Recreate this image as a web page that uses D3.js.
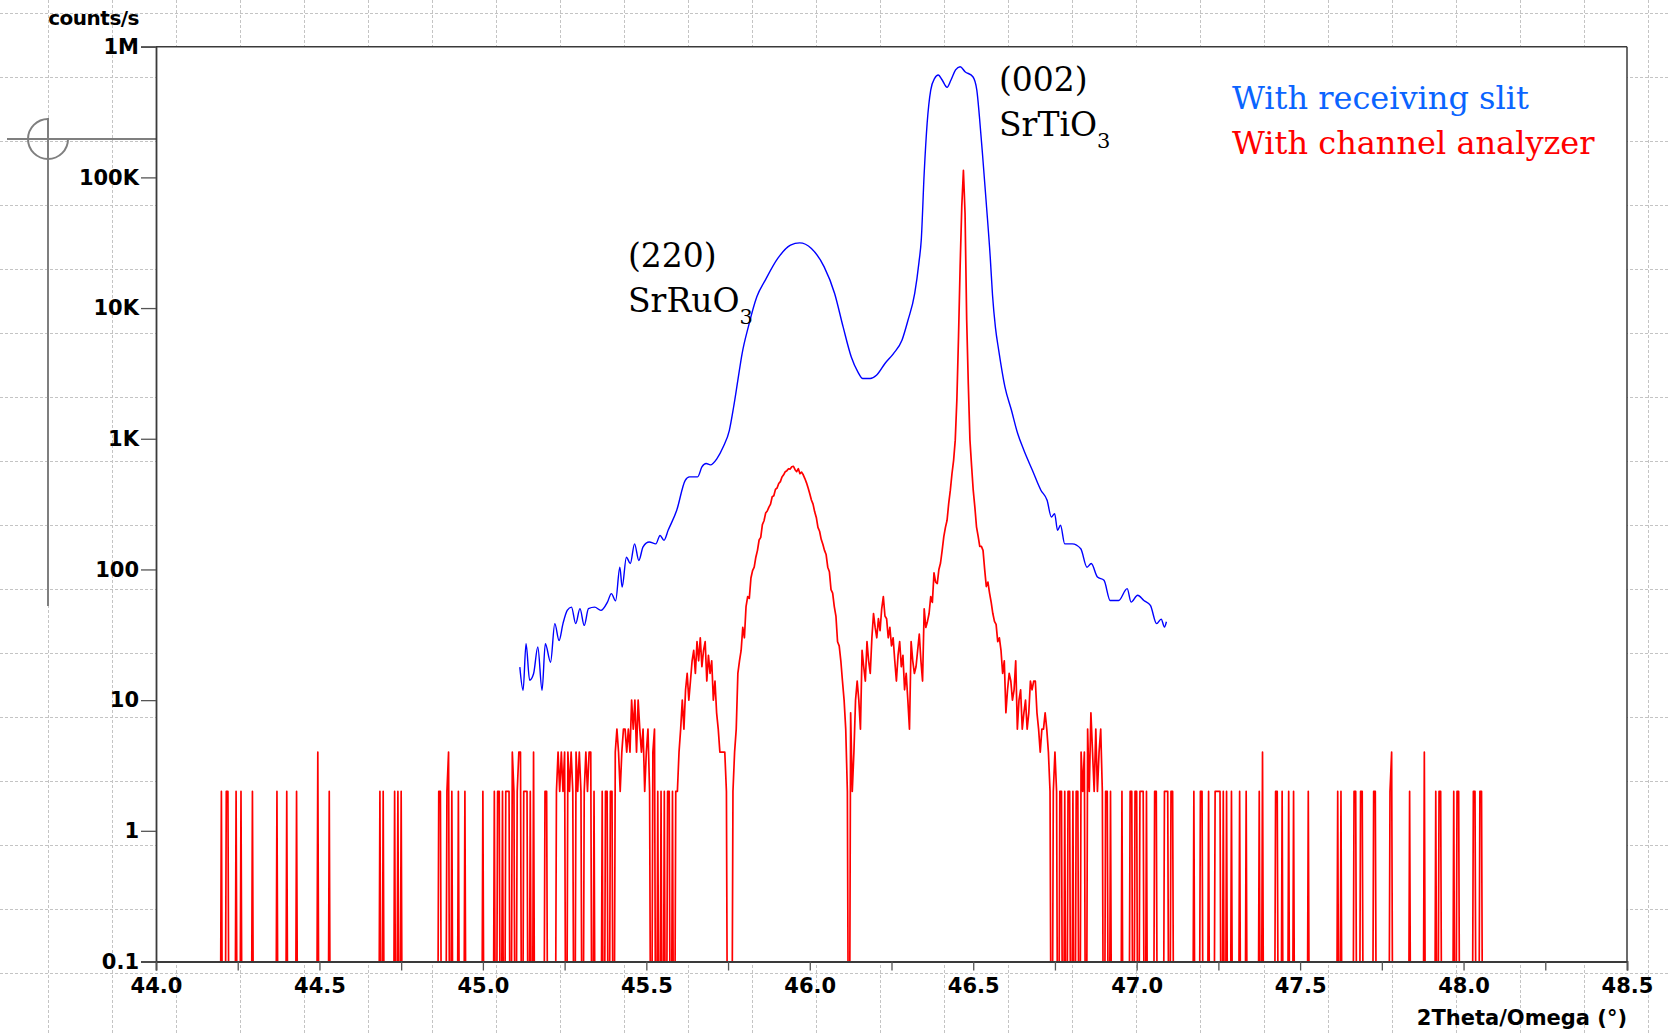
<!DOCTYPE html>
<html><head><meta charset="utf-8">
<script src="https://cdn.jsdelivr.net/npm/d3@7"></script>
<style>body{margin:0;background:#fff;} svg{display:block;}</style>
</head><body>
<svg id="chart" width="1670" height="1035"></svg>
<script>
// ---------------- data ----------------
const xTicksMajor = [44.0, 44.5, 45.0, 45.5, 46.0, 46.5, 47.0, 47.5, 48.0, 48.5];
const xTicksMinor = [44.25, 44.75, 45.25, 45.75, 46.25, 46.75, 47.25, 47.75, 48.25];
const yTicks = [0.1, 1, 10, 100, 1000, 10000, 100000, 1000000];
const yTickLabels = ["0.1", "1", "10", "100", "1K", "10K", "100K", "1M"];
const yAxisTitle = "counts/s";
const xAxisTitle = "2Theta/Omega (°)";
const seriesNames = ["With receiving slit", "With channel analyzer"];

// Blue: with receiving slit (2theta in degrees, counts/s)
const blueX = [45.113,45.123,45.132,45.143,45.155,45.168,45.181,45.191,45.207,45.220,45.233,45.245,45.258,45.271,45.284,45.297,45.310,45.323,45.342,45.361,45.381,45.393,45.406,45.419,45.426,45.439,45.451,45.464,45.477,45.490,45.509,45.529,45.542,45.554,45.567,45.593,45.619,45.632,45.657,45.670,45.683,45.696,45.716,45.735,45.754,45.767,45.780,45.793,45.812,45.838,45.864,45.902,45.941,45.969,46.005,46.044,46.076,46.102,46.127,46.147,46.162,46.185,46.204,46.230,46.256,46.282,46.300,46.321,46.334,46.341,46.350,46.359,46.370,46.382,46.393,46.405,46.420,46.432,46.446,46.460,46.475,46.499,46.511,46.519,46.529,46.540,46.552,46.559,46.568,46.578,46.597,46.617,46.636,46.655,46.681,46.707,46.726,46.739,46.749,46.758,46.767,46.780,46.803,46.829,46.848,46.861,46.880,46.900,46.919,46.945,46.971,46.983,47.003,47.022,47.042,47.061,47.075,47.085,47.091];
const blueY = [17.9,11.9,27.0,14.2,15.9,25.5,11.9,27.0,19.5,38.5,28.6,38.5,48.6,51.5,38.5,50.1,37.3,50.1,51.5,48.6,56.2,65.3,57.5,104,73.3,124,111,157,117,149,162,157,182,167,200,284,481,511,511,608,646,631,705,865,1161,1750,2805,4487,7178,12190,16370,23990,30340,31550,28580,20650,12940,7178,4227,3251,2891,2891,3062,3767,4487,5675,8000,12940,22390,33110,107400,258800,465600,572800,606700,555900,488700,555900,663700,703100,644200,588800,465600,291100,143900,63100,24660,12590,7080,4753,2495,1652,1096,817,574,404,338,252,267,199,218,157,157,144,104,111,87.5,82.6,57.9,57.9,71.3,56.2,63.4,57.9,53.1,38.5,41.7,36.3,39.8];

// Red: with channel analyzer, uniform scan from redStart in steps of redStep (counts/s)
const redStart = 44.195;
const redStep = 0.005;
const redCounts = [
0,2,0,0,2,2,0,0,0,0, 2,0,0,2,0,0,0,0,0,0, 2,0,0,0,0,0,0,0,0,0, 0,0,0,0,0,2,0,0,0,0,
0,2,0,0,0,0,0,2,0,0, 0,0,0,0,0,0,0,0,0,0, 4,0,0,0,0,0,0,2,0,0, 0,0,0,0,0,0,0,0,0,0,
0,0,0,0,0,0,0,0,0,0, 0,0,0,0,0,0,0,0,2,0, 2,0,0,0,0,0,0,2,0,2, 0,2,0,0,0,0,0,0,0,0,
0,0,0,0,0,0,0,0,0,0, 0,0,0,0,2,2,0,0,0,2, 4,0,2,0,0,0,2,0,0,0, 2,0,0,0,0,0,0,0,0,0,
0,2,0,0,0,0,0,0,2,0, 2,2,0,2,0,2,2,2,0,4, 2,0,2,4,4,0,2,2,2,0, 2,0,4,0,0,0,0,0,0,2,
2,0,0,0,0,0,2,4,2,4, 2,4,0,4,2,4,2,0,4,2, 4,2,0,2,4,2,4,4,0,2, 0,0,0,0,2,0,2,2,0,2,
2,0,4,6,4,2,4,6,6,4, 6,4,10,6,10,4,10,6,4,6, 2,4,6,2,0,4,6,0,2,0, 2,0,2,0,2,2,0,2,0,2,
2,4,6,10,6,12,16,10,14,20, 24,16,28,20,30,18,24,28,14,22, 16,20,10,14,8,6,4,4,4,4, 2,0,0,0,2,4,6,16,20,24,
36,30,52,62,60,86,98,104,124,140, 168,176,220,236,270,280,300,316,360,366, 410,420,454,470,510,530,560,570,590,586, 610,616,580,560,590,540,556,530,496,460,
420,380,340,316,276,250,210,196,170,156, 140,130,104,96,70,66,52,44,28,26, 20,14,10,6,2,0,8,2,4,10, 14,10,6,24,18,14,28,20,16,30,
46,36,30,42,34,50,62,44,42,30, 36,26,30,20,14,22,28,18,22,12, 16,10,6,28,20,16,18,24,32,20, 14,50,36,40,46,62,56,94,80,78,
100,112,140,178,210,238,320,404,540,684, 976,2000,6000,21000,60000,113000,53000,8150,2600,976, 620,404,300,212,180,150,150,140,100,74, 80,66,56,46,40,38,28,30,24,16,
20,8,12,16,14,10,12,20,6,10, 12,6,8,10,6,8,14,12,14,14, 8,6,4,6,6,8,6,4,2,0, 2,4,2,0,2,2,0,2,0,2,
2,0,2,0,2,2,0,4,2,4, 0,6,2,8,4,2,6,2,4,6, 2,0,2,2,0,2,0,0,0,0, 0,0,2,0,0,0,0,2,2,0,
2,2,0,2,2,2,0,2,0,0, 0,0,2,2,0,0,0,0,2,2, 2,0,2,2,0,0,0,0,0,0, 0,0,0,0,0,0,2,0,0,0,
2,2,0,0,0,2,0,0,0,2, 2,2,2,0,2,0,2,0,0,2, 0,0,0,0,2,0,0,0,2,0, 0,0,0,0,0,0,2,0,4,0,
0,0,0,0,0,0,2,2,0,0, 2,0,0,0,2,0,0,2,0,0, 0,0,0,0,0,0,2,0,0,0, 0,0,0,0,0,0,0,0,0,0,
0,0,0,0,2,0,2,0,0,0, 0,0,0,0,2,2,0,0,2,2, 0,0,0,0,0,0,2,2,0,0, 0,0,0,0,0,0,2,4,0,0,
0,0,0,0,0,0,0,0,2,0, 0,0,0,0,0,0,0,4,0,0, 0,0,0,0,2,0,2,2,0,0, 0,0,0,0,0,2,0,2,2,0,
0,0,0,0,0,0,0,2,2,0, 0,2,2,0
];

// ---------------- drawing ----------------
(function () {
const W = 1670, H = 1035;
const svg = d3.select("#chart");
const pL = 156, pR = 1627, pT = 46.7, pB = 961.5;

const x = d3.scaleLinear().domain([44, 48.5]).range([pL, pR]);
const y = d3.scaleLog().domain([0.1, 1e6]).range([pB, pT]);
const zeroFloor = 0.001;

// background dashed page grid
const grid = svg.append("g").attr("stroke", "#c4c4c4").attr("stroke-width", 1).attr("stroke-dasharray", "3,2");
for (let gx = 48; gx <= W; gx += 64) grid.append("line").attr("x1", gx + 0.5).attr("x2", gx + 0.5).attr("y1", 0).attr("y2", H);
for (let gy = 13; gy <= H; gy += 64) grid.append("line").attr("x1", 0).attr("x2", W).attr("y1", gy + 0.5).attr("y2", gy + 0.5);

// plot area
svg.append("rect").attr("x", pL).attr("y", pT).attr("width", pR - pL).attr("height", pB - pT).attr("fill", "#fff");

svg.append("clipPath").attr("id", "clip").append("rect")
  .attr("x", pL).attr("y", pT).attr("width", pR - pL).attr("height", pB - pT);

// crosshair cursor symbol
const cur = svg.append("g").attr("stroke", "#7f7f7f").attr("stroke-width", 2).attr("fill", "none");
cur.append("line").attr("x1", 7).attr("x2", pL).attr("y1", 139).attr("y2", 139);
cur.append("line").attr("x1", 48).attr("x2", 48).attr("y1", 118).attr("y2", 606);
cur.append("path").attr("d", d3.arc()({innerRadius: 20, outerRadius: 20, startAngle: Math.PI / 2, endAngle: 2 * Math.PI}))
  .attr("transform", "translate(48,139)");

// series
const redData = redCounts.map((v, i) => [redStart + i * redStep, v]);
const blueData = blueX.map((v, i) => [v, blueY[i]]);

const plot = svg.append("g").attr("clip-path", "url(#clip)");
plot.append("path").datum(redData)
  .attr("fill", "none").attr("stroke", "#ff0000").attr("stroke-width", 1.7).attr("stroke-linejoin", "round")
  .attr("d", d3.line().x(d => x(d[0])).y(d => y(d[1] > 0 ? d[1] : zeroFloor)));
plot.append("path").datum(blueData)
  .attr("fill", "none").attr("stroke", "#0000ff").attr("stroke-width", 1.4).attr("stroke-linejoin", "round")
  .attr("d", d3.line().curve(d3.curveMonotoneX).x(d => x(d[0])).y(d => y(d[1])));

// frame
const frame = svg.append("g").attr("stroke", "#3a3a3a").attr("fill", "none");
frame.append("line").attr("x1", pL).attr("x2", pR).attr("y1", pT).attr("y2", pT).attr("stroke-width", 1.5);
frame.append("line").attr("x1", pR).attr("x2", pR).attr("y1", pT).attr("y2", pB).attr("stroke-width", 1.5);

// axes
const tickFont = "'DejaVu Sans', Verdana, sans-serif";
svg.append("g").attr("transform", `translate(${pL},0)`)
  .call(d3.axisLeft(y).tickValues(yTicks).tickSize(15).tickPadding(2)
    .tickFormat(d => yTickLabels[yTicks.indexOf(d)]));
svg.append("g").attr("transform", `translate(0,${pB})`)
  .call(d3.axisBottom(x).tickValues(xTicksMajor).tickSize(9).tickPadding(8)
    .tickFormat(d3.format(".1f")));
svg.append("g").attr("transform", `translate(0,${pB})`)
  .call(d3.axisBottom(x).tickValues(xTicksMinor).tickSize(9).tickFormat(""))
  .call(g => g.select(".domain").remove());

svg.selectAll(".domain").attr("stroke", "#3a3a3a").attr("stroke-width", 1.8);
svg.selectAll(".tick line").attr("stroke", "#555").attr("stroke-width", 1.3);
svg.selectAll(".tick text").attr("font-family", tickFont).attr("font-weight", "bold")
  .attr("font-size", 21).attr("fill", "#000");

// axis titles
svg.append("text").attr("x", 139).attr("y", 25).attr("text-anchor", "end")
  .attr("font-family", tickFont).attr("font-weight", "bold").attr("font-size", 20).attr("letter-spacing", -0.5)
  .text(yAxisTitle);
svg.append("text").attr("x", pR).attr("y", 1025).attr("text-anchor", "end")
  .attr("font-family", tickFont).attr("font-weight", "bold").attr("font-size", 21)
  .text(xAxisTitle);

// annotations
const serif = "Georgia, 'DejaVu Serif', serif";
function label(x0, y0, line1, base, sub) {
  const g = svg.append("g").attr("font-family", serif).attr("font-size", 33).attr("fill", "#000");
  g.append("text").attr("x", x0).attr("y", y0).text(line1);
  const t = g.append("text").attr("x", x0).attr("y", y0 + 44.5);
  t.append("tspan").text(base);
  t.append("tspan").attr("font-size", 21).attr("dy", 12).text(sub);
}
label(628, 267, "(220)", "SrRuO", "3");
label(999, 91, "(002)", "SrTiO", "3");

// legend
const legend = svg.append("g").attr("font-family", serif).attr("font-size", 32);
legend.append("text").attr("x", 1232).attr("y", 109).attr("fill", "#0a64ff").text(seriesNames[0]);
legend.append("text").attr("x", 1232).attr("y", 154).attr("fill", "#ff0000").text(seriesNames[1]);
})();
</script>
</body></html>
